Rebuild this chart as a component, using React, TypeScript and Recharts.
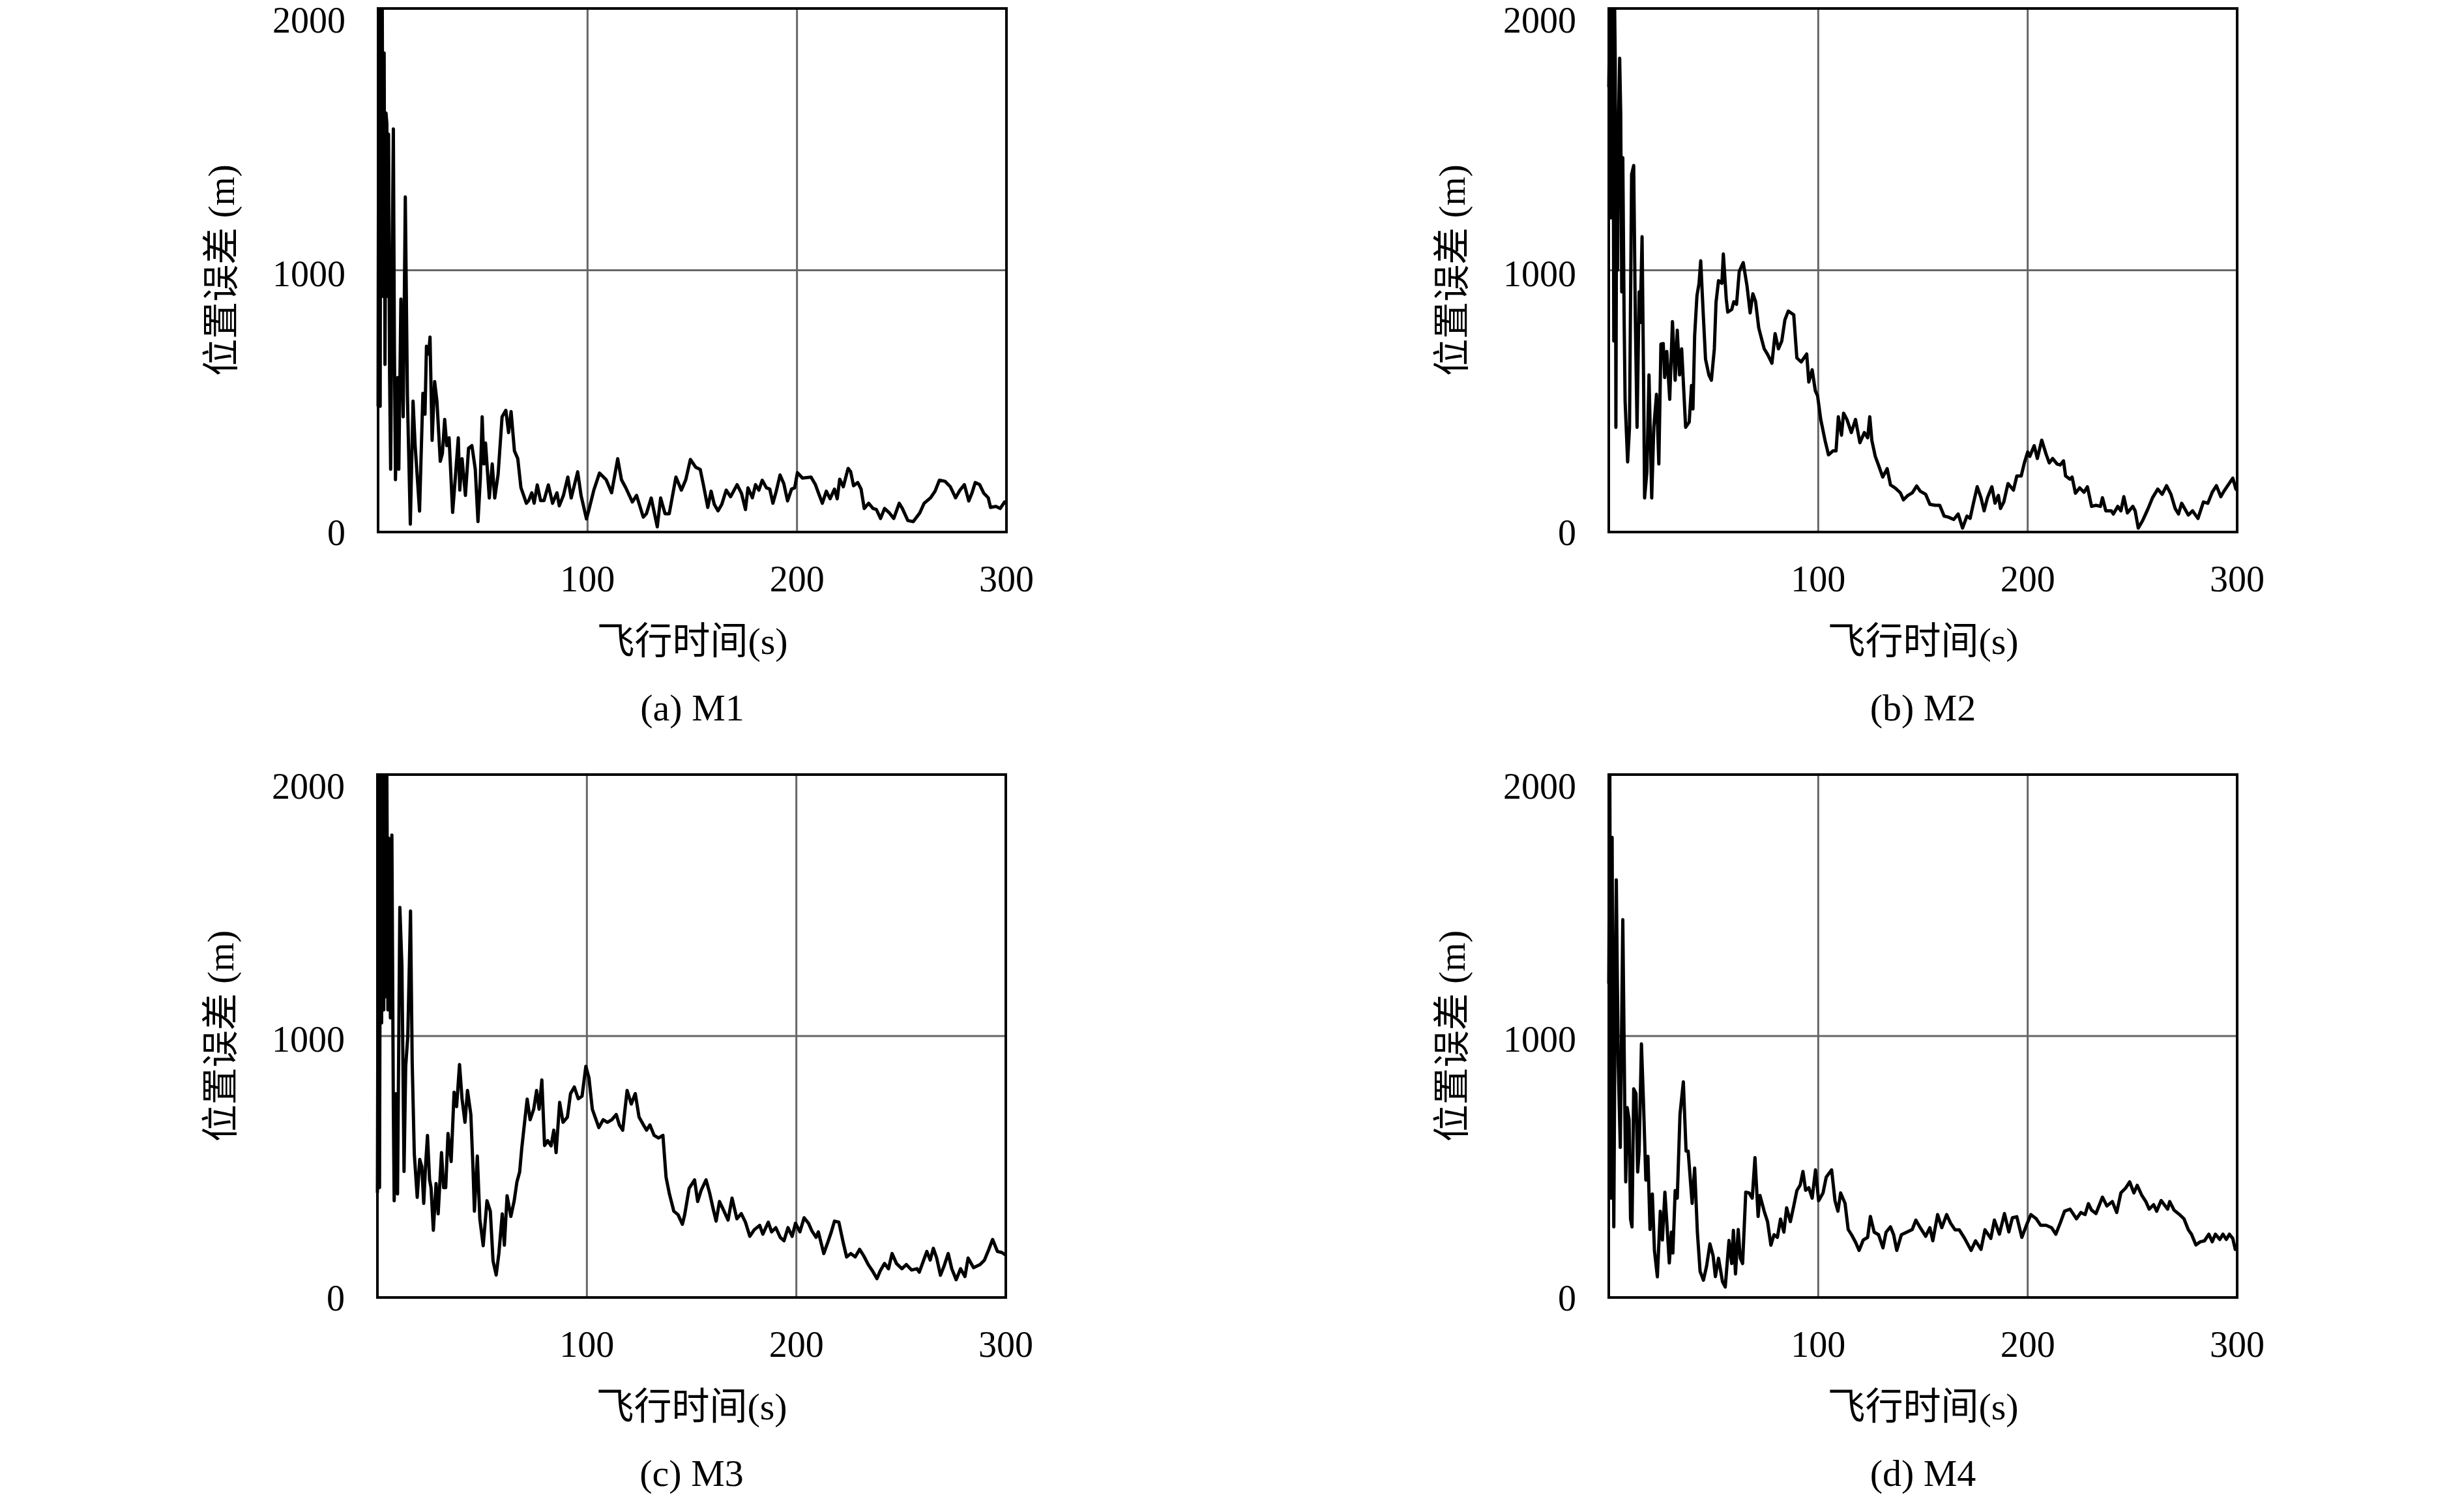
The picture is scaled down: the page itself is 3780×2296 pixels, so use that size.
import React from 'react';
import { LineChart, Line, XAxis, YAxis, CartesianGrid, ReferenceArea } from 'recharts';

const FONT = '"Liberation Serif", "Noto Sans CJK SC", serif';

const xTicks = [100, 200, 300];
const yTicks = [0, 1000, 2000];
const xTitle = '飞行时间(s)';
const yTitle = '位置误差 (m)';

// M1
const m1Time = [0, 0.3, 0.6, 1, 1.3, 1.6, 2, 2.4, 2.9, 3.3, 3.8, 4.2, 4.6, 5, 5.5, 6, 6.7, 7.3, 7.8, 8.3, 9.4, 9.9, 10.9, 11.5, 12, 13, 14, 15.4, 16.7, 17.7, 18.8, 19.8, 21.4, 22.4, 23.1, 24.2, 24.8, 25.8, 27, 28.1, 29.7, 30.7, 31.8, 32.8, 33.9, 35.6, 37, 38.3, 39, 40.1, 41.7, 43.2, 44.8, 46.4, 47.7, 48.8, 49.7, 50.5, 51.3, 53.1, 54.5, 55.7, 57.3, 59.2, 61, 62.3, 63.5, 65.1, 66.7, 68.2, 70.8, 71.9, 73.4, 74.5, 76, 77.6, 79.2, 81.3, 83.3, 85.4, 86.5, 88.5, 90.6, 92.2, 95.3, 96.9, 99.5, 100.5, 103, 105.7, 108.9, 111.5, 114.4, 116.2, 118.2, 121.4, 123.4, 126.6, 128.1, 130.4, 133.3, 134.9, 137, 139, 142.2, 144.8, 146.9, 149.1, 151.7, 153.8, 155.3, 157.4, 159, 160.5, 162.3, 164.1, 166.2, 168.3, 171.4, 173.5, 175.4, 176.6, 178.7, 180.2, 181.8, 183.4, 185.4, 187, 188.5, 190.1, 191.9, 193.7, 195.5, 197.4, 198.9, 200.2, 202.6, 206.7, 208.8, 210.3, 212.1, 214, 215.8, 217.9, 219.2, 220.4, 222.1, 224.4, 225.6, 227, 229, 230.6, 232.1, 234.2, 236.3, 237.9, 239.9, 241.8, 244.1, 246.2, 248.8, 250.3, 252.9, 255.5, 258.6, 260.7, 263.8, 265.9, 268, 270.6, 273.2, 275.7, 277.8, 279.9, 282, 283.5, 285.1, 287.2, 289.2, 291.3, 292.4, 295, 297, 299.1, 300];
const m1Error = [480, 2000, 1100, 480, 2000, 1200, 2000, 900, 1830, 640, 1600, 1560, 900, 1520, 600, 240, 1000, 1540, 700, 200, 590, 240, 890, 700, 440, 1280, 520, 30, 500, 330, 200, 80, 530, 450, 710, 680, 745, 350, 575, 500, 270, 300, 430, 330, 360, 75, 220, 360, 160, 280, 140, 320, 330, 240, 40, 200, 440, 260, 340, 130, 260, 130, 220, 440, 465, 380, 460, 310, 280, 170, 110, 120, 150, 110, 180, 120, 120, 180, 110, 150, 100, 140, 210, 130, 230, 140, 50, 80, 160, 225, 200, 150, 280, 200, 170, 115, 140, 57, 70, 130, 20, 130, 70, 70, 210, 160, 200, 277, 247, 239, 181, 94, 156, 106, 81, 106, 160, 135, 181, 148, 86, 169, 131, 181, 160, 198, 169, 164, 110, 156, 218, 185, 119, 164, 169, 227, 206, 210, 181, 148, 110, 156, 127, 164, 127, 202, 173, 243, 231, 177, 189, 164, 90, 110, 90, 86, 52, 90, 73, 52, 110, 90, 44, 40, 73, 110, 131, 156, 198, 194, 173, 131, 160, 181, 119, 148, 189, 181, 148, 131, 94, 98, 90, 115, 110];

// M2
const m2Time = [0, 0.5, 1, 1.3, 1.6, 2, 2.4, 2.8, 3.1, 3.4, 3.8, 4.2, 4.7, 5.2, 5.7, 6.2, 6.7, 7.3, 7.8, 9, 9.9, 10.9, 11.9, 12.7, 13.5, 14.5, 15, 15.9, 16.6, 17.1, 18.2, 19.2, 20.5, 21.5, 22.8, 23.9, 24.9, 26, 26.7, 27.7, 29.1, 30.4, 31.7, 32.7, 33.8, 34.8, 36.7, 38.4, 39.5, 40.2, 41, 42.1, 43.1, 43.9, 45, 46.2, 47.8, 49, 50.4, 51.2, 52.4, 54, 54.7, 56.1, 56.8, 58.7, 59.7, 61, 62.3, 64.2, 66, 67.5, 68.8, 70.1, 71.6, 73.2, 74.2, 75.8, 77.9, 79.4, 81, 82.6, 84.1, 85.7, 88.3, 89.8, 91.9, 94.5, 95.5, 97.1, 98.6, 99.7, 101.2, 103.3, 104.9, 107, 108.5, 109.6, 111.1, 112.1, 113.7, 115.8, 117.8, 119.9, 122, 123.6, 124.6, 125.6, 127.2, 128.8, 130.8, 132.9, 134.5, 136.6, 139.2, 140.7, 142.8, 144.9, 147, 148.7, 151.3, 153.3, 155.9, 158, 160.1, 162.1, 164.7, 166.8, 168.9, 171, 172.5, 174.1, 175.9, 177.7, 179.2, 180.8, 182.9, 184.4, 186, 187, 188.6, 190.6, 193.2, 194.8, 196.9, 198.4, 200, 201, 203.1, 204.6, 206.7, 208.8, 210.3, 211.9, 214, 215.5, 217.1, 218.1, 220.2, 221.2, 222.8, 224.8, 226.9, 228.5, 230.5, 232.6, 234.7, 235.7, 237.3, 239.9, 240.9, 243, 244.5, 245.9, 247.6, 250.2, 251.3, 252.8, 254.9, 257.5, 259.6, 262.1, 264.2, 266.3, 268.4, 270.4, 272, 273.5, 276.7, 278.7, 281.3, 283.9, 286, 288.1, 290.1, 292.2, 293.7, 295.8, 297.9, 299.4, 300];
const m2Error = [1700, 2000, 1200, 2000, 1700, 2000, 730, 2000, 1790, 400, 1500, 1000, 1600, 1810, 1600, 917, 1430, 840, 500, 268, 400, 1366, 1400, 800, 400, 917, 800, 1128, 600, 130, 230, 600, 130, 400, 526, 260, 718, 720, 590, 690, 507, 804, 580, 771, 600, 700, 400, 420, 560, 470, 750, 903, 950, 1036, 850, 660, 600, 580, 700, 877, 960, 950, 1062, 890, 840, 850, 880, 870, 996, 1029, 940, 837, 910, 880, 780, 730, 700, 679, 645, 758, 700, 730, 811, 844, 830, 665, 650, 680, 573, 620, 540, 520, 430, 348, 295, 310, 310, 440, 370, 454, 430, 380, 430, 341, 380, 360, 440, 350, 290, 255, 210, 242, 180, 169, 150, 123, 140, 150, 176, 156, 144, 106, 102, 102, 61, 57, 48, 69, 15, 61, 52, 110, 173, 131, 81, 131, 173, 110, 140, 90, 115, 185, 160, 214, 214, 264, 306, 289, 330, 281, 351, 297, 264, 281, 260, 256, 272, 214, 202, 210, 148, 169, 152, 173, 98, 102, 98, 131, 81, 81, 69, 98, 81, 135, 73, 98, 81, 15, 44, 90, 131, 164, 144, 177, 144, 90, 69, 110, 65, 81, 52, 115, 110, 152, 177, 135, 156, 181, 206, 164, 160];

// M3
const m3Time = [0, 0.5, 1, 1.5, 2, 2.5, 3, 3.5, 4, 4.5, 5, 5.5, 6.2, 6.9, 7.6, 8, 8.8, 9.6, 10.7, 11.7, 12.7, 13.5, 14.5, 15.8, 16.6, 17.6, 19, 20.2, 21.2, 22.1, 23.1, 23.9, 24.9, 25.6, 26.7, 28, 29, 30.6, 31.6, 32.6, 33.7, 35.2, 36.6, 37.8, 39.2, 40.4, 41.8, 43, 44.6, 45.6, 46.3, 47.7, 48.9, 50.5, 52.3, 53.9, 55.2, 56.7, 58, 59.6, 60.6, 61.9, 63.7, 65.3, 66.6, 67.9, 68.9, 70.3, 71.5, 72.9, 74.6, 76, 77.2, 78.5, 79.8, 81.3, 82.9, 84.2, 85.3, 87, 88.6, 90.7, 92.2, 94, 95.9, 97.7, 99.5, 101, 102.6, 104.1, 105.7, 107.8, 109.8, 111.9, 114, 115.5, 117.1, 119.2, 121.2, 123.1, 124.9, 127, 128.5, 130.1, 132.1, 134.2, 136.3, 137.8, 139.4, 141.5, 143.5, 145.6, 146.7, 148.8, 151.4, 152.9, 154.5, 156.9, 158.6, 160.2, 161.7, 163.3, 164.8, 167.4, 169.3, 171.6, 173.7, 175.7, 177.8, 179.9, 182.5, 184, 186.6, 188.2, 190.2, 192.3, 194.1, 196, 198, 199.6, 201.7, 203.7, 205.8, 207.4, 209.4, 210.5, 213.1, 215.1, 216.7, 218.2, 220.3, 222.4, 224, 226, 228.1, 230.2, 232.2, 234.3, 236.4, 238.5, 240, 242.1, 244, 245.7, 247.8, 250.4, 252.5, 255, 257.6, 258.7, 260.8, 262.3, 263.9, 265.4, 267, 268.8, 270.6, 272.5, 274.2, 276.3, 278.4, 280.5, 282, 284.6, 287.7, 289.8, 291.9, 293.7, 296, 298.1, 299.6, 300];
const m3Error = [400, 2000, 420, 2000, 1050, 2000, 1100, 2000, 1150, 2000, 1100, 1756, 1069, 1769, 726, 370, 779, 396, 1492, 1267, 482, 884, 1000, 1478, 900, 550, 383, 528, 500, 360, 520, 620, 450, 420, 257, 436, 320, 554, 420, 420, 627, 520, 785, 730, 891, 760, 670, 792, 700, 500, 330, 541, 300, 198, 370, 330, 140, 86, 170, 320, 200, 389, 310, 370, 442, 480, 570, 673, 759, 680, 720, 792, 720, 832, 581, 600, 580, 640, 554, 746, 670, 690, 780, 805, 760, 770, 884, 840, 720, 686, 650, 680, 670, 680, 700, 660, 640, 792, 740, 780, 690, 660, 640, 660, 620, 610, 620, 460, 396, 330, 317, 280, 317, 417, 450, 367, 409, 450, 400, 342, 292, 367, 342, 296, 380, 301, 321, 288, 234, 259, 276, 242, 288, 251, 267, 230, 217, 267, 234, 284, 251, 305, 284, 255, 230, 251, 168, 213, 251, 292, 288, 209, 155, 168, 155, 184, 159, 126, 101, 72, 101, 130, 110, 168, 130, 110, 126, 105, 110, 97, 143, 176, 143, 188, 151, 85, 122, 168, 110, 68, 110, 80, 151, 114, 126, 143, 184, 222, 176, 172, 164, 170];

// M4
const m4Time = [0, 0.5, 1, 1.6, 2, 2.4, 3, 3.6, 4.5, 5.5, 6.7, 7.6, 8.1, 8.8, 9.7, 10.4, 11.1, 11.9, 13, 13.8, 14.5, 15.6, 16.6, 17.7, 18.7, 19.7, 20.8, 21.8, 23.2, 24.6, 25.6, 26.8, 28, 28.9, 29.9, 30.6, 31.7, 32.7, 34, 35.6, 36.9, 37.9, 39.8, 41, 42.3, 43.6, 45.2, 46.7, 48.3, 49.8, 50.9, 52.4, 54.3, 55.6, 57.4, 58.7, 59.5, 60.5, 61.8, 62.8, 63.9, 65.4, 67, 68.5, 69.8, 71.3, 72.2, 74.2, 75.8, 77.4, 78.9, 80.5, 82, 83.6, 84.9, 86.7, 88.3, 89.8, 91.4, 92.7, 94, 95.5, 97.1, 98.7, 100.2, 102.3, 103.8, 106.4, 108, 109.4, 110.7, 112.8, 114.3, 115.9, 117.9, 119.5, 121.5, 123.6, 124.9, 126.7, 128.8, 130.9, 132.4, 134.5, 136, 137.5, 139.7, 142.3, 144.9, 146.6, 148.7, 151.3, 153.3, 154.7, 157, 159, 161.3, 163.2, 165.3, 167.3, 169.9, 173, 175.1, 177.7, 179.6, 182.4, 184.1, 186.5, 188.9, 191, 192.7, 194.8, 197.2, 199.4, 201.5, 204.1, 206.2, 208.8, 211.4, 213.4, 215.5, 217.6, 220.2, 223.3, 225.4, 227.4, 229, 230.5, 232.6, 235.7, 237.8, 240.4, 242.5, 244.5, 246.6, 248.7, 250.7, 252.3, 254.4, 256.4, 258, 260.1, 261.6, 263.7, 266.8, 267.8, 269.9, 272.5, 274.6, 276.7, 278.2, 280.3, 282.4, 284.4, 286.5, 288.1, 289.6, 291.7, 293.2, 294.8, 296.3, 297.9, 299.1, 300];
const m4Error = [1200, 2000, 380, 1760, 900, 270, 1100, 1597, 900, 574, 1445, 760, 442, 726, 680, 300, 270, 798, 780, 480, 560, 970, 740, 449, 540, 260, 396, 180, 79, 330, 220, 403, 250, 132, 250, 170, 409, 380, 700, 825, 560, 560, 360, 495, 250, 100, 66, 120, 205, 160, 80, 150, 60, 40, 218, 130, 257, 90, 260, 150, 130, 403, 400, 380, 535, 310, 390, 330, 290, 200, 240, 230, 300, 250, 343, 290, 350, 409, 430, 482, 410, 420, 380, 488, 370, 400, 460, 488, 370, 330, 400, 360, 260, 240, 210, 180, 220, 230, 310, 250, 240, 190, 250, 270, 240, 180, 240, 250, 260, 296, 267, 234, 267, 217, 317, 267, 317, 284, 259, 259, 226, 180, 217, 184, 259, 226, 296, 242, 321, 251, 305, 309, 230, 276, 317, 301, 276, 276, 267, 242, 284, 330, 338, 301, 325, 317, 359, 334, 321, 384, 350, 367, 325, 400, 417, 442, 400, 429, 392, 367, 338, 355, 330, 371, 338, 367, 334, 317, 301, 259, 242, 201, 213, 217, 242, 213, 242, 222, 242, 222, 242, 226, 184, 190];

const panels = [
  { id: 'M1', caption: '(a) M1', time: m1Time, error: m1Error, plotLeft: 580, plotTop: 13, plotH: 803 },
  { id: 'M2', caption: '(b) M2', time: m2Time, error: m2Error, plotLeft: 2468, plotTop: 13, plotH: 803 },
  { id: 'M3', caption: '(c) M3', time: m3Time, error: m3Error, plotLeft: 579, plotTop: 1188, plotH: 802 },
  { id: 'M4', caption: '(d) M4', time: m4Time, error: m4Error, plotLeft: 2468, plotTop: 1188, plotH: 802 },
];

const PLOT_W = 964;
const Y_AXIS_W = 300;
const X_AXIS_H = 340;
const RIGHT = 60;
const TOP_PAD = 40;

function YTick(props: any) {
  const { x, y, payload } = props;
  // the top label sits a little below its gridline, as in the original
  const shift = payload.value === 2000 ? 17 : payload.value === 1000 ? 4 : 0;
  return (
    <text x={x} y={y + shift} dy="0.36em" textAnchor="end" fontSize={56} fontFamily={FONT} fill="#000">
      {payload.value}
    </text>
  );
}

function Panel(props: { caption: string, time: number[], error: number[], plotLeft: number, plotTop: number, plotH: number }) {
  const { caption, time, error, plotLeft, plotTop, plotH } = props;
  const data = time.map((t, i) => ({ t, v: error[i] }));

  const xLabel = (p: any) => {
    const vb = p.viewBox;
    const cx = vb.x + vb.width / 2;
    return (
      <g>
        <text x={cx} y={vb.y + 166} dy="0.36em" textAnchor="middle" fontSize={58} fontFamily={FONT} fill="#000">{xTitle}</text>
        <text x={cx} y={vb.y + 268} dy="0.36em" textAnchor="middle" fontSize={58} fontFamily={FONT} fill="#000">{caption}</text>
      </g>
    );
  };

  const yLabel = (p: any) => {
    const vb = p.viewBox;
    const cx = vb.x + vb.width - 242;
    const cy = vb.y + vb.height / 2;
    return (
      <text x={cx} y={cy} dy="0.36em" textAnchor="middle" fontSize={57} fontFamily={FONT} fill="#000" transform={`rotate(-90 ${cx} ${cy})`}>
        {yTitle}
      </text>
    );
  };

  return (
    <div style={{ position: 'absolute', left: plotLeft - Y_AXIS_W, top: plotTop - TOP_PAD }}>
      <LineChart
        width={Y_AXIS_W + PLOT_W + RIGHT}
        height={TOP_PAD + plotH + X_AXIS_H}
        data={data}
        margin={{ top: TOP_PAD, right: RIGHT, left: 0, bottom: 0 }}
      >
        <CartesianGrid stroke="#666" strokeWidth={3} />
        <XAxis
          dataKey="t"
          type="number"
          domain={[0, 300]}
          ticks={xTicks}
          height={X_AXIS_H}
          axisLine={false}
          tickLine={false}
          tickSize={0}
          tickMargin={51}
          tick={{ fontSize: 56, fill: '#000', fontFamily: FONT }}
          label={xLabel}
        />
        <YAxis
          type="number"
          domain={[0, 2000]}
          ticks={yTicks}
          allowDataOverflow
          width={Y_AXIS_W}
          axisLine={false}
          tickLine={false}
          tickSize={0}
          tickMargin={50}
          tick={<YTick />}
          label={yLabel}
        />
        <Line type="linear" dataKey="v" stroke="#000" strokeWidth={5} dot={false} isAnimationActive={false} strokeLinejoin="round" />
        <ReferenceArea x1={0} x2={300} y1={0} y2={2000} fill="none" stroke="#000" strokeWidth={4} />
      </LineChart>
    </div>
  );
}

export default function App() {
  return (
    <div style={{ position: 'absolute', left: 0, top: 0, width: 3780, height: 2296, background: '#fff', overflow: 'hidden' }}>
      {panels.map((p) => (
        <Panel key={p.id} caption={p.caption} time={p.time} error={p.error} plotLeft={p.plotLeft} plotTop={p.plotTop} plotH={p.plotH} />
      ))}
    </div>
  );
}
